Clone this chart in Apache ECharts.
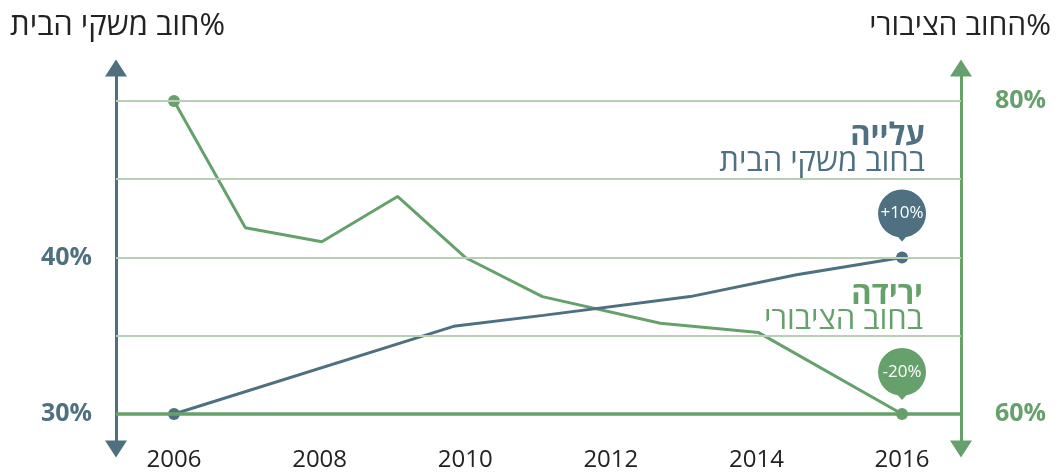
<!DOCTYPE html>
<html>
<head>
<meta charset="utf-8">
<script src="https://cdn.jsdelivr.net/npm/echarts@6/dist/echarts.min.js"></script>
<style>
html,body{margin:0;padding:0;background:#fff;}
#chart{width:1059px;height:474px;}
</style>
</head>
<body>
<div id="chart"></div>
<script>
// ---- data ----
const xTickYears = [2006, 2008, 2010, 2012, 2014, 2016];
const householdDebt = [ // % (left axis)
  [2006, 30], [2009.84, 35.6], [2011.07, 36.3], [2013.09, 37.5], [2014.55, 38.9], [2016, 40]
];
const publicDebt = [ // % (right axis)
  [2006, 80], [2006.98, 71.9], [2008.03, 71.0], [2009.07, 73.9], [2010, 70.0],
  [2011.06, 67.5], [2012.68, 65.8], [2014.03, 65.2], [2016, 60]
];
const leftTickLabels = [30, 40];
const rightTickLabels = [60, 80];
const leftGridValues = [35, 40, 45, 50];
const baselineValue = 30;
const leftTitle = '\u200F%חוב משקי הבית';
const rightTitle = '\u200F%החוב הציבורי';
const upTitle = 'עלייה';
const upSub = 'בחוב משקי הבית';
const downTitle = 'ירידה';
const downSub = 'בחוב הציבורי';
const upBadge = '+10%';
const downBadge = '-20%';

// ---- style ----
const BLUE = '#4e7080';
const GREEN = '#66a16b';
const GRID = '#b7cfb3';
const DARK = '#222222';
const FONT = "'Open Sans', 'DejaVu Sans', sans-serif";
const PIN = 'path://M0,24 A24,24 0 1,1 48,24 A24,24 0 1,1 0,24 Z M15,42 L33,42 L24,52 Z';

function endsOnly(arr) {
  return arr.map((p, i) => (i === 0 || i === arr.length - 1) ? {value: p} : {value: p, symbol: 'none'});
}

const chart = echarts.init(document.getElementById('chart'), null, {renderer: 'canvas'});
chart.setOption({
  animation: false,
  backgroundColor: '#fff',
  textStyle: {fontFamily: FONT},
  title: [
    {text: leftTitle, left: 10, top: 8, padding: 0, textStyle: {fontFamily: FONT, fontSize: 31, fontWeight: 'normal', color: DARK, lineHeight: 36}},
    {text: rightTitle, right: 8, top: 8, padding: 0, textStyle: {fontFamily: FONT, fontSize: 30, fontWeight: 'normal', color: DARK, lineHeight: 36}},
    {text: upTitle, right: 134, top: 119, padding: 0, textStyle: {fontFamily: FONT, fontSize: 31, fontWeight: 'bold', color: BLUE, lineHeight: 34}},
    {text: upSub, right: 134, top: 145, padding: 0, textStyle: {fontFamily: FONT, fontSize: 31, fontWeight: 'normal', color: BLUE, lineHeight: 34}},
    {text: downTitle, right: 136, top: 278, padding: 0, textStyle: {fontFamily: FONT, fontSize: 31, fontWeight: 'bold', color: GREEN, lineHeight: 34}},
    {text: downSub, right: 136, top: 303, padding: 0, textStyle: {fontFamily: FONT, fontSize: 31, fontWeight: 'normal', color: GREEN, lineHeight: 34}}
  ],
  grid: {left: 116, right: 98, top: 68, bottom: 25, containLabel: false},
  xAxis: {
    type: 'value', min: 2005.203, max: 2016.81,
    axisLine: {show: false, onZero: false},
    axisTick: {show: false},
    splitLine: {show: false},
    axisLabel: {
      customValues: xTickYears, formatter: v => String(v),
      fontFamily: FONT, fontSize: 24, color: DARK, margin: -1
    }
  },
  yAxis: [
    {
      type: 'value', position: 'left', min: 27.76, max: 52.11,
      axisLine: {show: true, onZero: false, symbol: ['triangle', 'triangle'], symbolSize: [22, 17], lineStyle: {color: BLUE, width: 3}},
      axisTick: {show: false},
      splitLine: {show: false},
      axisLabel: {customValues: leftTickLabels, formatter: v => v + '%', fontFamily: FONT, fontSize: 25, fontWeight: 'bold', color: BLUE, margin: 24}
    },
    {
      type: 'value', position: 'right', min: 57.76, max: 82.11,
      axisLine: {show: true, onZero: false, symbol: ['triangle', 'triangle'], symbolSize: [22, 17], lineStyle: {color: GREEN, width: 3}},
      axisTick: {show: false},
      splitLine: {show: false},
      axisLabel: {customValues: rightTickLabels, formatter: v => v + '%', fontFamily: FONT, fontSize: 25, fontWeight: 'bold', color: GREEN, margin: 34}
    }
  ],
  series: [
    {
      type: 'line', yAxisIndex: 0, z: 1, silent: true,
      data: [[2006, 30]], symbol: 'none', lineStyle: {opacity: 0},
      markLine: {
        silent: true, symbol: 'none', label: {show: false},
        data: leftGridValues.map(v => ({yAxis: v, lineStyle: {color: GRID, width: 2, type: 'solid'}}))
          .concat([{yAxis: baselineValue, lineStyle: {color: GREEN, width: 3.5, type: 'solid'}}])
      }
    },
    {
      type: 'line', yAxisIndex: 1, z: 3,
      data: endsOnly(publicDebt),
      symbol: 'circle', symbolSize: 12, showSymbol: true,
      itemStyle: {color: GREEN},
      lineStyle: {color: GREEN, width: 3},
      markPoint: {
        symbol: PIN, symbolSize: [48, 52], symbolOffset: [0, -40],
        itemStyle: {color: GREEN},
        label: {show: true, formatter: downBadge, color: '#fff', fontFamily: FONT, fontSize: 17, offset: [0, -2]},
        data: [{coord: publicDebt[publicDebt.length - 1]}]
      }
    },
    {
      type: 'line', yAxisIndex: 0, z: 4,
      data: endsOnly(householdDebt),
      symbol: 'circle', symbolSize: 12, showSymbol: true,
      itemStyle: {color: BLUE},
      lineStyle: {color: BLUE, width: 3},
      markPoint: {
        symbol: PIN, symbolSize: [48, 52], symbolOffset: [0, -42],
        itemStyle: {color: BLUE},
        label: {show: true, formatter: upBadge, color: '#fff', fontFamily: FONT, fontSize: 17, offset: [0, -2]},
        data: [{coord: householdDebt[householdDebt.length - 1]}]
      }
    }
  ]
});
</script>
</body>
</html>
